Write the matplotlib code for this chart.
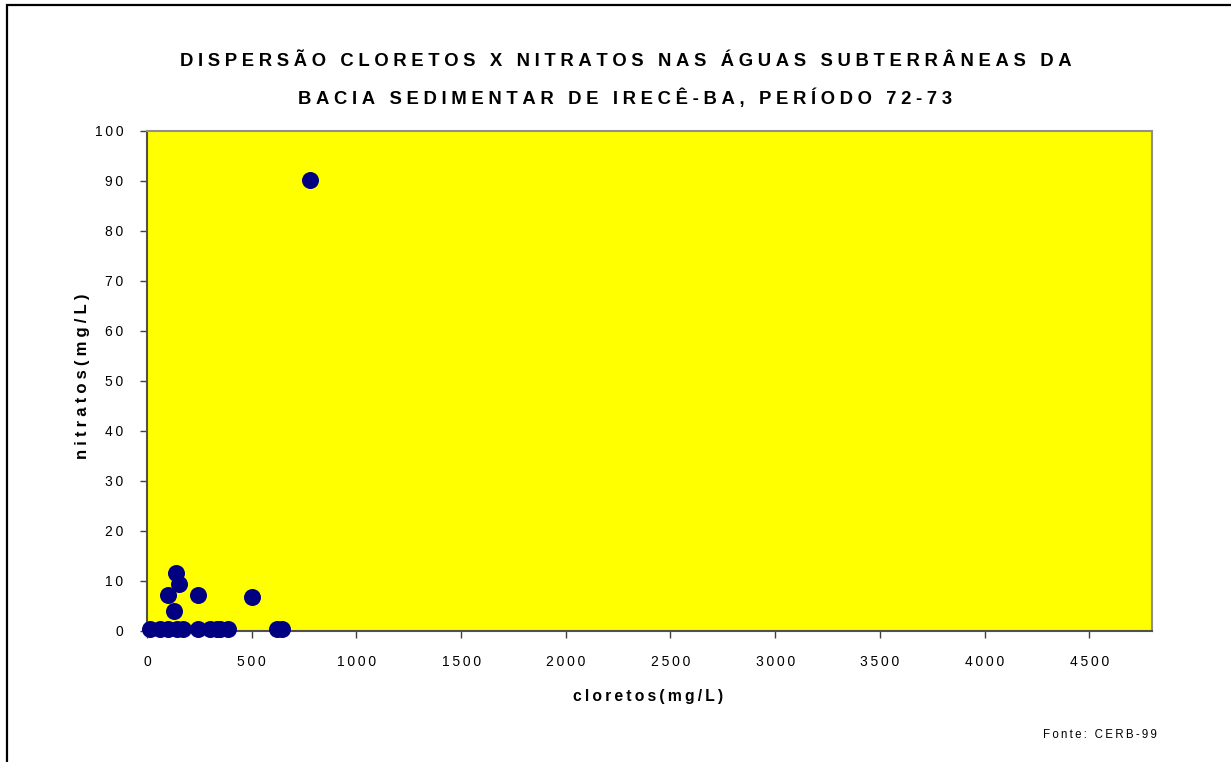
import matplotlib

matplotlib.use("Agg")
import matplotlib.pyplot as plt
from matplotlib.patches import Rectangle
from matplotlib.ticker import FuncFormatter, MultipleLocator

# chloride vs nitrate, wells of the Irecê basin (1972-73)
cloretos = [14, 62, 100, 143, 172, 242, 301, 335, 349, 388, 620, 645,
            138, 154, 102, 242, 500, 131, 778]
nitratos = [0.4, 0.4, 0.4, 0.4, 0.4, 0.4, 0.4, 0.4, 0.4, 0.4, 0.4, 0.4,
            11.7, 9.4, 7.3, 7.2, 6.9, 4.1, 90.2]

TITLE = ["DISPERSÃO CLORETOS X NITRATOS NAS ÁGUAS SUBTERRÂNEAS DA",
         "BACIA SEDIMENTAR DE IRECÊ-BA, PERÍODO 72-73"]
XLABEL = "cloretos(mg/L)"
YLABEL = "nitratos(mg/L)"
SOURCE = "Fonte: CERB-99"

FONTS = ["Liberation Sans", "DejaVu Sans"]
plt.rcParams["font.family"] = FONTS


def track(s, sep="\u2005"):
    # wide letter spacing, like the old spreadsheet chart
    return sep.join(s)


W, H = 1231, 762
fig = plt.figure(figsize=(W / 100, H / 100), dpi=100)

# outer frame (only left/top edges fall inside the canvas)
fig.add_artist(Rectangle((7 / W, -0.1), 1.2, (H - 5) / H + 0.1,
                         transform=fig.transFigure, fill=False,
                         edgecolor="black", lw=1.6))

ax = fig.add_axes([147 / W, 1 - 631 / H, (1152 - 147) / W, (631 - 131) / H])
ax.set_facecolor("#ffff00")
ax.scatter(cloretos, nitratos, s=150, color="#000080", zorder=5,
           clip_on=False, linewidths=0)

ax.set_xlim(0, 4800)
ax.set_ylim(0, 100)
ax.set_xticks(list(range(0, 5000, 500)))
ax.yaxis.set_major_locator(MultipleLocator(10))
fmt = FuncFormatter(lambda v, p: track(f"{v:.0f}", "\u2009"))
ax.xaxis.set_major_formatter(fmt)
ax.yaxis.set_major_formatter(fmt)
ax.tick_params(axis="both", direction="out", length=5, width=1,
               color="#404040", labelsize=10, labelcolor="black")
ax.tick_params(axis="x", pad=12)
ax.tick_params(axis="y", pad=12)

for side in ("left", "bottom"):
    ax.spines[side].set_color("#505050")
    ax.spines[side].set_linewidth(1.5)
for side in ("top", "right"):
    ax.spines[side].set_color("#909090")
    ax.spines[side].set_linewidth(1.5)

fig.text(626 / W, 1 - 62 / H, track(TITLE[0]), ha="center", va="center",
         fontsize=13.3, fontweight="bold")
fig.text(625 / W, 1 - 98 / H, track(TITLE[1]), ha="center", va="center",
         fontsize=13.3, fontweight="bold")
fig.text(648 / W, 1 - 697 / H, track(XLABEL, "\u2009"), ha="center",
         va="center", fontsize=11.3, fontweight="bold")
fig.text(83 / W, 1 - 376 / H, track(YLABEL, "\u2005"), ha="center",
         va="center", fontsize=12, fontweight="bold", rotation=90)
fig.text(1157 / W, 1 - 735 / H, track(SOURCE, "\u2009"), ha="right",
         va="center", fontsize=8.3)

fig.savefig("out.png", dpi=100)
